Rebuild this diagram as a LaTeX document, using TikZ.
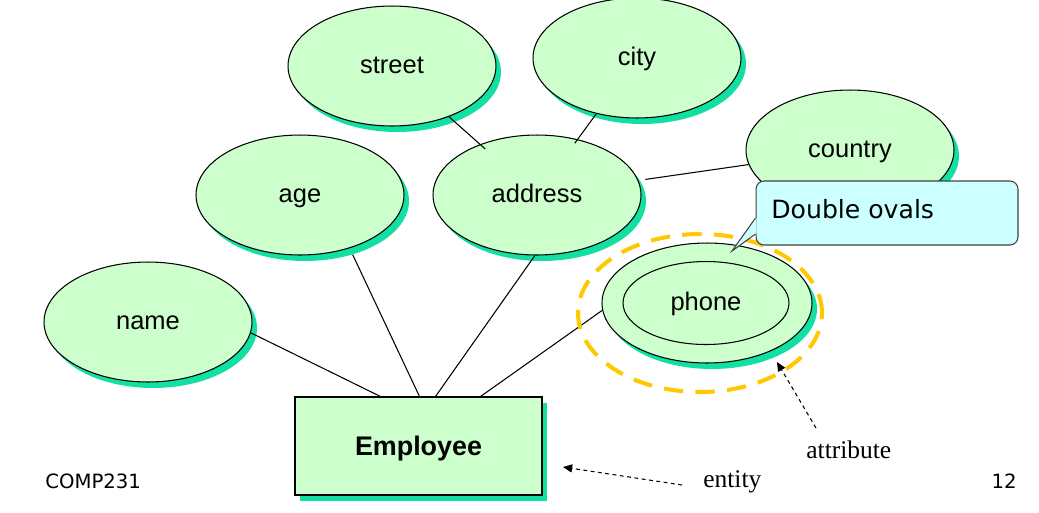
\documentclass[tikz,border=0pt]{standalone}
\usepackage{fontspec}
\setmainfont{Liberation Sans}
\newfontfamily\dejavu{DejaVu Sans}
\newfontfamily\timesf{Liberation Serif}
\usetikzlibrary{shapes.geometric,shadows,arrows.meta,calc}
\definecolor{attrfill}{HTML}{CCFFCC}
\definecolor{shgreen}{HTML}{12DFA2}
\definecolor{callfill}{HTML}{CCFFFF}
\definecolor{calldraw}{HTML}{404040}
\definecolor{hlyellow}{HTML}{FFC800}
\begin{document}
\begin{tikzpicture}[x=0.02cm,y=-0.02cm,
  greenshadow/.style={drop shadow={shadow xshift=0.1cm,shadow yshift=-0.12cm,fill=shgreen,opacity=1}},
  attrtext/.style={font=\fontsize{14.5}{17}\selectfont,text height=10.4pt,text depth=1.7pt},
  attr/.style={ellipse,draw=black,line width=0.6pt,fill=attrfill,minimum width=4.16cm,minimum height=2.4cm,inner sep=0pt,attrtext,greenshadow},
  entitybox/.style={rectangle,draw=black,line width=0.6pt,fill=attrfill,minimum width=4.94cm,minimum height=1.96cm,inner sep=0pt,
    font=\fontsize{15.3}{18}\bfseries\selectfont,text height=11pt,text depth=0.3pt,greenshadow},
  conn/.style={draw=black,line width=0.6pt},
  note/.style={draw=black,line width=0.6pt,dash pattern=on 2.2pt off 2pt,-{Triangle[length=5.2pt,width=4.6pt]}},
  lbl/.style={inner sep=0pt}
]
\useasboundingbox (0,0) rectangle (1039,512);

% attribute ovals
\node[attr] (street) at (392,66) {street};
\node[attr] (city) at (637,58) {city};
\node[attr] (age) at (300,195) {age};
\node[attr] (address) at (537,195) {address};
\node[attr] (country) at (850,150) {country};
\node[attr] (name) at (148,322) {name};
\node[attr,minimum width=4.2cm] (phone) at (707,303) {};
\node[ellipse,draw=black,line width=0.6pt,minimum width=3.32cm,minimum height=1.66cm,inner sep=0pt,attrtext] (phonein) at (706,303) {phone};

% entity
\node[entitybox] (emp) at (418.5,446) {Employee};

% connectors
\coordinate (e1) at ($(emp.north west)+(86,0)$);
\coordinate (e2) at ($(emp.north west)+(125,0)$);
\coordinate (e3) at ($(emp.north west)+(141,0)$);
\coordinate (e4) at ($(emp.north west)+(186,0)$);
\draw[conn,shorten >=-4pt] (street) -- (address);
\draw[conn,shorten >=-2.8pt] (city) -- (address);
\draw[conn,shorten <=4pt] (address) -- (country);
\draw[conn] (name.-6) -- (e1);
\draw[conn,shorten <=4pt] (age.-47) -- (e2);
\draw[conn] (address.-92) -- (e3);
\draw[conn] (phone.184) -- (e4);

% highlight of the multivalued attribute
\node[ellipse,draw=hlyellow,line width=2.3pt,dash pattern=on 11pt off 7pt,minimum width=4.88cm,minimum height=3.16cm,inner sep=0pt] (hl) at (700,313) {};

% callout
\node[draw=calldraw,fill=callfill,rounded corners=0.16cm,line width=0.6pt,minimum width=5.24cm,minimum height=1.28cm,inner sep=0pt] (callout) at (887,213) {};
\coordinate (ptip) at (732,251);
\fill[callfill] ($(callout.west)+(1.2,5)$) -- ($(callout.west)+(-0.7,6)$) -- (ptip) -- ($(callout.west)+(-0.7,20.4)$) -- ($(callout.west)+(1.2,21)$) -- cycle;
\draw[calldraw,line width=0.6pt] ($(callout.west)+(0,5)$) -- (ptip) -- ($(callout.west)+(0,21)$);
\node[lbl,anchor=base west,font=\dejavu\fontsize{14.3}{17}\selectfont] (dbl) at (771,218) {Double ovals};

% notes
\node[lbl,anchor=base west,font=\timesf\fontsize{14.5}{17}\selectfont] (attrlbl) at (806,458) {attribute};
\node[lbl,anchor=base west,font=\timesf\fontsize{14.5}{17}\selectfont] (entlbl) at (703,487) {entity};
\coordinate (atail) at (816,428);
\coordinate (atip) at (777,362);
\coordinate (etail) at (682,485);
\coordinate (etip) at (563,467);
\draw[note] (atail) -- (atip);
\draw[note] (etail) -- (etip);

% footer
\node[lbl,anchor=base west,font=\dejavu\fontsize{11.2}{13}\selectfont] (course) at (45,488) {COMP231};
\node[lbl,anchor=base east,font=\dejavu\fontsize{11.2}{13}\selectfont] (pnum) at (1017,488) {12};
\end{tikzpicture}
\end{document}
